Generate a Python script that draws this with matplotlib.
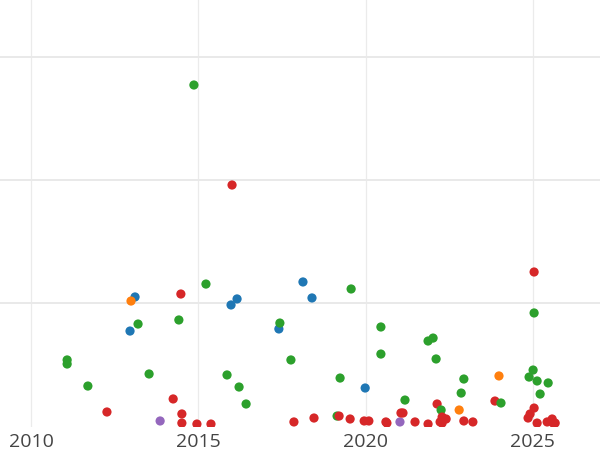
import matplotlib
matplotlib.use("Agg")
import matplotlib.pyplot as plt

years = [2011.08, 2011.08, 2011.70, 2012.27, 2012.96, 2013.11, 2012.99, 2013.20, 2013.53, 2013.86,
         2014.25, 2014.42, 2014.48, 2014.51, 2014.51, 2014.87, 2014.96, 2015.23, 2015.38, 2015.86,
         2015.98, 2016.01, 2016.16, 2016.22, 2016.43, 2017.41, 2017.44, 2017.77, 2017.86, 2018.13,
         2018.40, 2018.46, 2019.15, 2019.21, 2019.24, 2019.54, 2019.57, 2019.96, 2019.99, 2020.10,
         2020.46, 2020.46, 2020.61, 2020.64, 2021.03, 2021.06, 2021.12, 2021.18, 2021.48, 2021.87,
         2021.87, 2022.02, 2022.11, 2022.14, 2022.26, 2022.23, 2022.29, 2022.41, 2022.29, 2022.80,
         2022.86, 2022.94, 2022.94, 2023.21, 2023.87, 2023.99, 2024.05, 2025.04, 2025.04, 2025.01,
         2024.89, 2025.13, 2025.46, 2025.22, 2025.04, 2024.92, 2024.86, 2025.13, 2025.43, 2025.58,
         2025.61, 2025.67]
values = [53.7, 50.4, 32.5, 11.4, 77.2, 104.9, 101.6, 82.9, 42.3, 4.1,
          22.0, 86.2, 107.3, 9.8, 2.4, 277.2, 1.6, 115.4, 1.6, 41.5,
          98.4, 195.9, 103.3, 31.7, 17.9, 78.9, 83.7, 53.7, 3.3, 117.1,
          104.1, 6.5, 8.1, 8.1, 39.0, 5.7, 111.4, 4.1, 30.9, 4.1,
          80.5, 58.5, 3.3, 2.4, 3.3, 10.6, 10.6, 21.1, 3.3, 1.6,
          69.1, 71.5, 54.5, 17.9, 13.0, 3.3, 7.3, 5.7, 2.4, 13.0,
          26.8, 38.2, 4.1, 3.3, 20.3, 40.7, 18.7, 125.2, 91.9, 45.5,
          39.8, 36.6, 35.0, 26.0, 14.6, 9.8, 6.5, 2.4, 3.3, 5.7,
          2.4, 2.4]
groups = ["G", "G", "G", "R", "B", "B", "O", "G", "G", "P",
          "R", "G", "R", "R", "R", "G", "R", "G", "R", "G",
          "B", "R", "B", "G", "G", "B", "G", "G", "R", "B",
          "B", "R", "G", "R", "G", "R", "G", "R", "B", "R",
          "G", "G", "R", "R", "P", "R", "R", "G", "R", "R",
          "G", "G", "G", "R", "G", "R", "R", "R", "R", "O",
          "G", "G", "R", "R", "R", "O", "G", "R", "G", "G",
          "G", "G", "G", "G", "R", "R", "R", "R", "R", "R",
          "R", "R"]
group_colors = {"B": "#1f77b4", "O": "#ff7f0e", "G": "#2ca02c", "R": "#d62728", "P": "#9467bd"}
x_ticks = [2010, 2015, 2020, 2025]

fig = plt.figure(figsize=(6, 4.5), dpi=100)
ax = fig.add_axes([0, 23 / 450, 1, 427 / 450])
ax.set_xlim(2009.073, 2027.01)
ax.set_ylim(-0.8, 346.3)

for x in x_ticks:
    ax.axvline(x, color="#ebebeb", lw=0.9, zorder=0)
for y in [100, 200, 300]:
    ax.axhline(y, color="#e9e9e9", lw=1.4, zorder=0)

ax.scatter(years, values, c=[group_colors[g] for g in groups], s=44, linewidths=0, zorder=3)

ax.set_xticks(x_ticks)
ax.set_xticklabels([str(t) for t in x_ticks], fontsize=14, color="#444444", family=["Open Sans", "DejaVu Sans"])
ax.tick_params(axis="x", length=0, pad=4)
ax.set_yticks([])
for s in ax.spines.values():
    s.set_visible(False)

fig.savefig("out.png", dpi=100)
